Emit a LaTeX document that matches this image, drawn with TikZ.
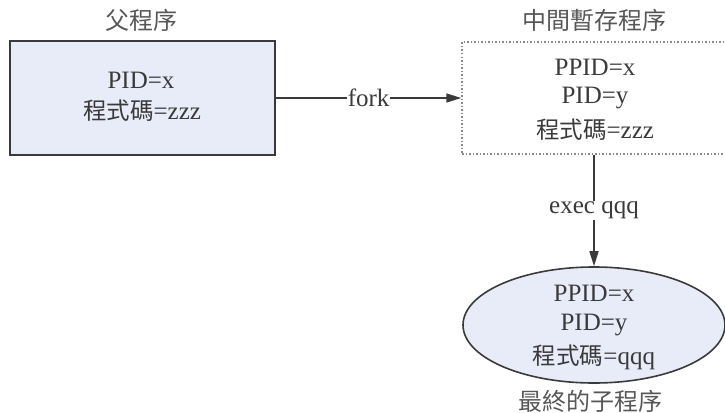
\documentclass[tikz,border=0pt]{standalone}
\usepackage{fontspec}
\setmainfont{Liberation Serif}
\newfontfamily\cjk{Noto Sans CJK TC}
\usetikzlibrary{arrows.meta,shapes.geometric}
\definecolor{boxfill}{HTML}{E8ECF8}
\definecolor{ink}{HTML}{3A3A3A}
\newcommand{\cj}[1]{{\cjk\fontsize{23.5}{28}\selectfont #1}}
\tikzset{
  txt/.style={font=\fontsize{25}{30}\selectfont, text=ink, inner sep=0pt},
  ttl/.style={font=\fontsize{24}{28}\selectfont\cjk, text=ink!85, inner sep=0pt},
  conn/.style={draw=ink, line width=1.6pt, -{Triangle[length=15pt,width=9pt]}},
  lbl/.style={fill=white, inner sep=1pt, font=\fontsize{25}{30}\selectfont, text=ink}
}
\begin{document}
\begin{tikzpicture}[x=1pt,y=-1pt]
\useasboundingbox (0,0) rectangle (725,412);
% parent box
\node[draw=ink, fill=boxfill, line width=2pt, minimum width=265pt, minimum height=114pt, inner sep=0pt] (par) at (142.5,98) {};
\node[ttl] (parT) at (141,20) {父程序};
\node[txt] (p1) at (141,80) {PID=x};
\node[txt] (p2) at (142,111) {\cj{程式碼}=zzz};
% middle box
\node[draw=ink!60, dotted, line width=1.5pt, minimum width=264pt, minimum height=112pt, inner sep=0pt] (mid) at (594,98) {};
\node[ttl] (midT) at (594,20) {中間暫存程序};
\node[txt] (m1) at (595,67) {PPID=x};
\node[txt] (m2) at (595,98) {PID=y};
\node[txt] (m3) at (595,130) {\cj{程式碼}=zzz};
% final ellipse
\node[ellipse, draw=ink, fill=boxfill, line width=1.6pt, minimum width=262pt, minimum height=116pt, inner sep=0pt] (fin) at (594,325) {};
\node[txt] (f1) at (594,293) {PPID=x};
\node[txt] (f2) at (594,325) {PID=y};
\node[txt] (f3) at (594,357) {\cj{程式碼}=qqq};
\node[ttl] (finT) at (590,401) {最終的子程序};
% connectors
\draw[conn] (par.east) -- node[lbl] {fork} (mid.west);
\draw[conn] (mid.south) -- node[lbl, pos=0.5] {exec qqq} (fin.north);
\end{tikzpicture}
\end{document}
